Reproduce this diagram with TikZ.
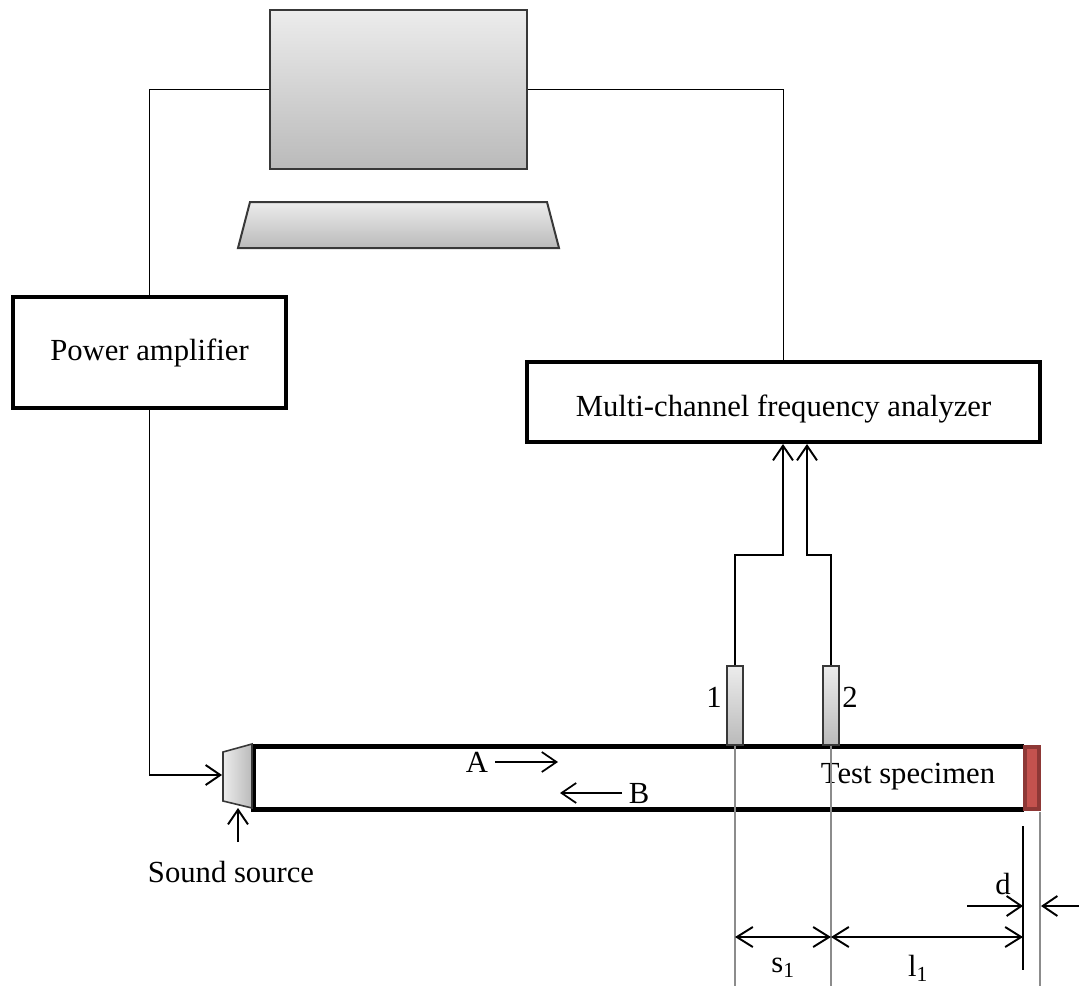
\documentclass[tikz,border=0pt]{standalone}
\usepackage{fontspec}
\setmainfont{Liberation Serif}
\usepackage{tikz}
\usetikzlibrary{
  arrows.meta,
  positioning,
  calc
}
\definecolor{panelgrey}{RGB}{236,236,236}
\definecolor{panelshade}{RGB}{186,186,186}
\definecolor{specred}{RGB}{196,82,78}
\definecolor{specrim}{RGB}{142,56,54}

\begin{document}
\begin{tikzpicture}[x=0.75pt, y=-0.75pt,
  box/.style={rectangle, draw=black, line width=3pt, fill=white, inner sep=0pt, font=\fontsize{23}{28}\selectfont},
  device/.style={rectangle, draw=black!78, line width=1.5pt, top color=panelgrey, bottom color=panelshade, inner sep=0pt},
  probe/.style={device, line width=1.2pt, minimum width=12pt, minimum height=59.25pt},
  lbl/.style={inner sep=0pt, font=\fontsize{23}{28}\selectfont},
  wire/.style={line width=1.45pt},
  sig/.style={wire, -{Straight Barb[length=11pt,width=15pt]}},
  dim/.style={wire, {Straight Barb[length=12pt,width=15pt]}-{Straight Barb[length=12pt,width=15pt]}},
  guide/.style={line width=0.8pt, black!45}
]
  \useasboundingbox (0,0) rectangle (1079,986);

  % Computer
  \node[device, minimum width=192.75pt, minimum height=119.25pt] (monitor) at (398.5,89.5) {};
  \shade[draw=black!78, line width=1.5pt, top color=panelgrey, bottom color=panelshade]
    (250,202) -- (547,202) -- (559,248) -- (238,248) -- cycle;

  % Instruments
  \node[box, minimum width=204.75pt, minimum height=83.25pt] (amp) at (149.5,352.5) {Power amplifier};
  \node[box, minimum width=384.75pt, minimum height=60pt, text height=22pt, text depth=0pt] (fft) at (783.5,402) {Multi-channel frequency analyzer};

  % Impedance tube
  \draw[line width=3.75pt] (1024,746.5) -| (253,809) -- (1024,809);
  \filldraw[fill=specred, draw=specrim, line width=3pt] (1025,747) rectangle (1039,809);
  \shade[draw=black!78, line width=1.2pt, left color=panelgrey, right color=panelshade]
    (223,752) -- (252,744) -- (252,808) -- (223,801) -- cycle;
  \node[lbl] (spec) at (908,777) {Test specimen};

  % Microphones
  \node[probe] (mic1) at (735,705.5) {};
  \node[probe] (mic2) at (831,705.5) {};
  \node[lbl] at (714,697) {1};
  \node[lbl] at (850,697) {2};

  % Sound source
  \coordinate (src) at (222,775);
  \coordinate (srcbase) at (238,808);
  \coordinate (srcfoot) at (238,842);
  \node[lbl] (srclbl) at (231,872) {Sound source};

  % Wave directions
  \coordinate (a0) at (495,762);
  \coordinate (a1) at (558,762);
  \coordinate (b0) at (622,793);
  \coordinate (b1) at (560,793);
  \node[lbl] at (477,762) {A};
  \node[lbl] at (639,793) {B};

  % Wiring
  \coordinate (in1) at ($(fft.south)+(-0.5,0)$);
  \coordinate (in2) at ($(fft.south)+(23.5,0)$);
  \draw[wire] (monitor.west) -| (amp.north);
  \draw[wire] (monitor.east) -| (fft.north);
  \draw[sig] (amp.south) |- (src);
  \draw[sig] (srcfoot) -- (srcbase);
  \draw[sig] (mic1.north) |- ($(in1)+(0,111)$) -- (in1);
  \draw[sig] (mic2.north) |- ($(in2)+(0,111)$) -- (in2);
  \draw[sig, line width=1.3pt] (a0) -- (a1);
  \draw[sig, line width=1.3pt] (b0) -- (b1);

  % Dimensions
  \coordinate (floor) at (0,986);
  \coordinate (face) at (1023,826);
  \coordinate (back) at (1040,812);
  \draw[guide] (mic1.south) -- (mic1.south |- floor);
  \draw[guide] (mic2.south) -- (mic2.south |- floor);
  \draw[guide] (back) -- (back |- floor);
  \draw[wire] (face) -- ($(face)+(0,144)$);
  \coordinate (d0) at (967,906);
  \coordinate (d1) at (1079,906);
  \draw[sig] (d0) -- (face |- d0);
  \draw[sig] (d1) -- ($(back |- d1)+(1,0)$);
  \node[lbl] at (1003,884) {d};
  \coordinate (s0) at (mic1.south |- 0,937);
  \coordinate (s1) at (mic2.south |- 0,937);
  \draw[dim] (s0) -- (s1);
  \draw[dim] (s1) -- (face |- s1);
  \node[lbl] at (783,968) {s\textsubscript{1}};
  \node[lbl] at (918,968) {l\textsubscript{1}};
\end{tikzpicture}
\end{document}
